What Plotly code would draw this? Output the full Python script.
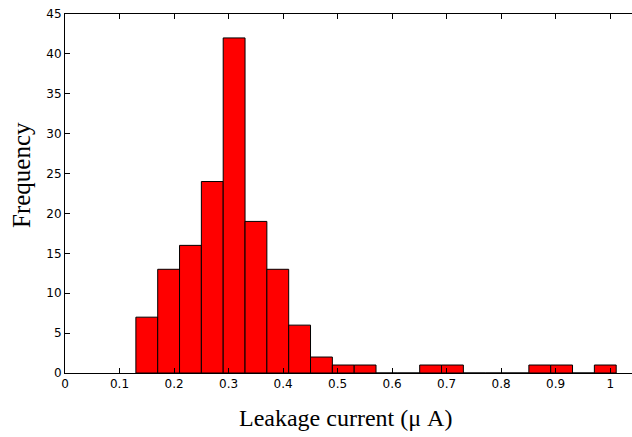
import plotly.graph_objects as go

# Histogram data
hist_min = 0.130
hist_max = 1.011
n_bins = 22
counts = [7, 13, 16, 24, 42, 19, 13, 6, 2, 1, 1, 0, 0, 1, 1, 0, 0, 0, 1, 1, 0, 1]

x_ticks = [0, 0.1, 0.2, 0.3, 0.4, 0.5, 0.6, 0.7, 0.8, 0.9, 1.0]
x_tick_labels = ["0", "0.1", "0.2", "0.3", "0.4", "0.5", "0.6", "0.7", "0.8", "0.9", "1"]
y_ticks = [0, 5, 10, 15, 20, 25, 30, 35, 40, 45]

bin_w = (hist_max - hist_min) / n_bins
centers = [hist_min + (i + 0.5) * bin_w for i in range(n_bins)]

fig = go.Figure(go.Bar(
    x=centers, y=counts, width=[bin_w] * n_bins,
    marker=dict(color="#ff0000", line=dict(color="black", width=1)),
    hoverinfo="x+y",
))

tick_font = dict(family="DejaVu Sans", size=12, color="black")
fig.update_layout(
    width=632, height=437,
    margin=dict(l=65, r=0, t=14, b=64),
    paper_bgcolor="white", plot_bgcolor="white",
    showlegend=False,
    xaxis=dict(
        range=[0, 1.04], tickvals=x_ticks, ticktext=x_tick_labels,
        ticks="inside", ticklen=5, tickcolor="black", tickwidth=1,
        showline=True, linecolor="black", linewidth=1, mirror="ticks",
        showgrid=False, zeroline=False, tickfont=tick_font,
    ),
    yaxis=dict(
        range=[0, 45], tickvals=y_ticks,
        ticks="inside", ticklen=5, tickcolor="black", tickwidth=1,
        showline=True, linecolor="black", linewidth=1, mirror=False,
        showgrid=False, zeroline=False, tickfont=tick_font,
    ),
    annotations=[
        dict(text="Leakage current (\u03bc A)", xref="paper", yref="paper",
             x=(345 - 65) / 567, y=-(418 - 373) / 359, showarrow=False,
             xanchor="center", yanchor="middle",
             font=dict(family="Liberation Serif", size=24, color="black")),
        dict(text="Frequency", xref="paper", yref="paper",
             x=-(65 - 21) / 567, y=(373 - 175) / 359, showarrow=False,
             xanchor="center", yanchor="middle", textangle=-90,
             font=dict(family="Liberation Serif", size=25, color="black")),
    ],
)

fig.write_html("out.html")
